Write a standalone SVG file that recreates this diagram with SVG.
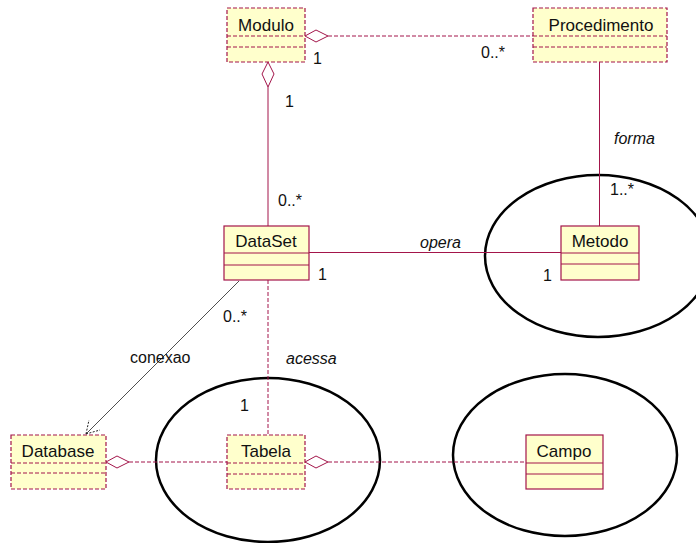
<svg xmlns="http://www.w3.org/2000/svg" width="696" height="543" viewBox="0 0 696 543">
  <style>
    .box { fill: #ffffcc; stroke: #a3154a; stroke-width: 1.2; }
    .dash { stroke-dasharray: 4 2; }
    .sep { stroke: #a3154a; stroke-width: 1; fill: none; }
    .name { font-family: "Liberation Sans", Arial, sans-serif; font-size: 17px; font-weight: normal; fill: #111; text-anchor: middle; }
    .lbl { font-family: "Liberation Sans", Arial, sans-serif; font-size: 16px; fill: #111; }
    .it { font-style: italic; }
    .conn { stroke: #a3154a; stroke-width: 1; fill: none; }
    .diamond { fill: #ffffff; stroke: #a3154a; stroke-width: 1; }
    .ring { fill: none; stroke: #000; stroke-width: 2.5; }
  </style>
  <rect width="696" height="543" fill="#ffffff"/>

  <!-- grouping ellipses -->
  <g id="ellipses">
    <ellipse class="ring" cx="598" cy="256" rx="113" ry="81"/>
    <ellipse class="ring" cx="268" cy="460" rx="112" ry="82"/>
    <ellipse class="ring" cx="565" cy="455" rx="112" ry="81"/>
  </g>

  <!-- connectors -->
  <g id="connectors">
    <!-- Modulo <>- Procedimento -->
    <line class="conn dash" x1="328" y1="36" x2="533" y2="36"/>
    <polygon class="diamond" points="305,36 316,30 328,36 316,42"/>
    <!-- Modulo <>- DataSet -->
    <line class="conn" x1="268" y1="87" x2="268" y2="226"/>
    <polygon class="diamond" points="268,62 262,74 268,87 274,74"/>
    <!-- Procedimento - Metodo -->
    <line class="conn" x1="599.5" y1="62" x2="599.5" y2="226" stroke="#c05a80"/>
    <!-- DataSet - Metodo -->
    <line class="conn" x1="309" y1="252.5" x2="561" y2="252.5"/>
    <!-- DataSet - Tabela -->
    <line class="conn dash" x1="268" y1="280" x2="268" y2="435"/>
    <!-- DataSet dependency to Database -->
    <line x1="239" y1="281" x2="86" y2="434" stroke="#222" stroke-width="0.8"/>
    <g stroke="#222" stroke-width="1" stroke-dasharray="2 1.5" fill="none">
      <line x1="86" y1="434" x2="89" y2="420"/>
      <line x1="86" y1="434" x2="100" y2="430"/>
    </g>
    <!-- Database <>- Tabela -->
    <line class="conn dash" x1="129" y1="462" x2="227" y2="462"/>
    <polygon class="diamond" points="106,462 117,456 129,462 117,468"/>
    <!-- Tabela <>- Campo -->
    <line class="conn dash" x1="328" y1="462" x2="526" y2="462"/>
    <polygon class="diamond" points="305,462 316,456 328,462 316,468"/>
  </g>

  <!-- classes -->
  <g id="Modulo">
    <rect class="box dash" x="227" y="8" width="78" height="54"/>
    <line class="sep dash" x1="227" y1="36" x2="305" y2="36"/>
    <line class="sep dash" x1="227" y1="47" x2="305" y2="47"/>
    <text class="name" x="266" y="31">Modulo</text>
  </g>
  <g id="Procedimento">
    <rect class="box dash" x="533" y="8" width="134" height="54"/>
    <line class="sep dash" x1="533" y1="36" x2="667" y2="36"/>
    <line class="sep dash" x1="533" y1="47" x2="667" y2="47"/>
    <text class="name" x="601" y="31">Procedimento</text>
  </g>
  <g id="DataSet">
    <rect class="box" x="224" y="226" width="85" height="54"/>
    <line class="sep" x1="224" y1="253" x2="309" y2="253"/>
    <line class="sep" x1="224" y1="265" x2="309" y2="265"/>
    <text class="name" x="266" y="247">DataSet</text>
  </g>
  <g id="Metodo">
    <rect class="box" x="561" y="226" width="78" height="54"/>
    <line class="sep" x1="561" y1="253" x2="639" y2="253"/>
    <line class="sep" x1="561" y1="264" x2="639" y2="264"/>
    <text class="name" x="600" y="247">Metodo</text>
  </g>
  <g id="Database">
    <rect class="box dash" x="11" y="435" width="95" height="54"/>
    <line class="sep dash" x1="11" y1="463" x2="106" y2="463"/>
    <line class="sep dash" x1="11" y1="473" x2="106" y2="473"/>
    <text class="name" x="58" y="457">Database</text>
  </g>
  <g id="Tabela">
    <rect class="box dash" x="227" y="435" width="78" height="54"/>
    <line class="sep dash" x1="227" y1="463" x2="305" y2="463"/>
    <line class="sep dash" x1="227" y1="474" x2="305" y2="474"/>
    <text class="name" x="266" y="457">Tabela</text>
  </g>
  <g id="Campo">
    <rect class="box" x="526" y="435" width="77" height="54"/>
    <line class="sep" x1="526" y1="463" x2="603" y2="463"/>
    <line class="sep" x1="526" y1="474" x2="603" y2="474"/>
    <text class="name" x="564" y="457">Campo</text>
  </g>

  <!-- labels -->
  <g id="labels">
    <text class="lbl" x="313" y="64">1</text>
    <text class="lbl" x="481" y="58">0..*</text>
    <text class="lbl" x="285" y="107">1</text>
    <text class="lbl" x="278" y="206">0..*</text>
    <text class="lbl it" x="614" y="144">forma</text>
    <text class="lbl" x="610" y="195">1..*</text>
    <text class="lbl it" x="420" y="248">opera</text>
    <text class="lbl" x="318" y="280">1</text>
    <text class="lbl" x="543" y="281">1</text>
    <text class="lbl" x="223" y="322">0..*</text>
    <text class="lbl" x="130" y="363">conexao</text>
    <text class="lbl it" x="286" y="364">acessa</text>
    <text class="lbl" x="240" y="411">1</text>
  </g>
</svg>
